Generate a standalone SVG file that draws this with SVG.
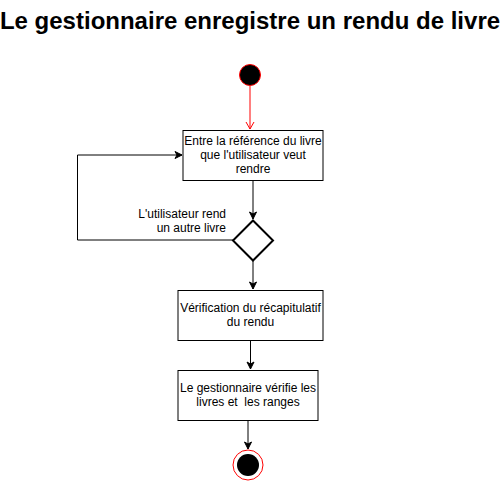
<svg xmlns="http://www.w3.org/2000/svg" width="500" height="482" viewBox="0 0 500 482">
<style>
.box{fill:#fff;stroke:#000;stroke-width:1}
.t{font-family:"Liberation Sans",Arial,sans-serif;font-size:12px;fill:#000}
.e{fill:none;stroke:#000;stroke-width:1}
.title{font-family:"Liberation Sans",Arial,sans-serif;font-size:24px;font-weight:bold;fill:#000}
</style>
<defs>
<marker id="a" markerWidth="10" markerHeight="10" refX="8" refY="5" orient="auto" markerUnits="userSpaceOnUse"><path d="M1,1.5 L8,5 L1,8.5 L3,5 Z" fill="#000" stroke="#000"/></marker>
<marker id="r" markerWidth="10" markerHeight="10" refX="8" refY="5" orient="auto" markerUnits="userSpaceOnUse"><path d="M1,1 L8,5 L1,9" fill="none" stroke="#f00"/></marker>
</defs>
<rect width="500" height="482" fill="#fff"/>
<text class="title" x="250" y="29" text-anchor="middle">Le gestionnaire enregistre un rendu de livre</text>
<g id="connectors">
<path d="M250,86 V129" fill="none" stroke="#f00" marker-end="url(#r)"/>
<path class="e" d="M253,180 V219" marker-end="url(#a)"/>
<path class="e" d="M233,240 H77.5 V155 H182" marker-end="url(#a)"/>
<text class="t" x="226" y="218" text-anchor="end">L'utilisateur rend</text>
<text class="t" x="226" y="232" text-anchor="end">un autre livre</text>
<path class="e" d="M253,260 V289" marker-end="url(#a)"/>
<path class="e" d="M250.5,340 V369" marker-end="url(#a)"/>
<path class="e" d="M248,420 V449" marker-end="url(#a)"/>
</g>
<g id="start"><circle cx="250" cy="75" r="10.5" fill="#000" stroke="#f00"/></g>
<g id="n1"><rect class="box" x="183" y="130.5" width="140" height="50"/>
<text class="t" x="253" y="145" text-anchor="middle">Entre la référence du livre</text>
<text class="t" x="253" y="159" text-anchor="middle">que l'utilisateur veut</text>
<text class="t" x="253" y="173" text-anchor="middle">rendre</text></g>
<g id="d1"><path d="M253,220.5 L273,240.5 L253,260.5 L233,240.5 Z" fill="#fff" stroke="#000" stroke-width="2"/></g>
<g id="n2"><rect class="box" x="178" y="290.5" width="145" height="50"/>
<text class="t" x="250.5" y="312" text-anchor="middle">Vérification du récapitulatif</text>
<text class="t" x="250.5" y="326" text-anchor="middle">du rendu</text></g>
<g id="n3"><rect class="box" x="178" y="370.5" width="140" height="50"/>
<text class="t" x="248" y="392" text-anchor="middle">Le gestionnaire vérifie les</text>
<text class="t" x="248" y="406" text-anchor="middle" xml:space="preserve">livres et  les ranges</text></g>
<g id="end"><circle cx="248" cy="465" r="15" fill="#fff" stroke="#f00"/><circle cx="248" cy="465" r="11" fill="#000"/></g>
</svg>
